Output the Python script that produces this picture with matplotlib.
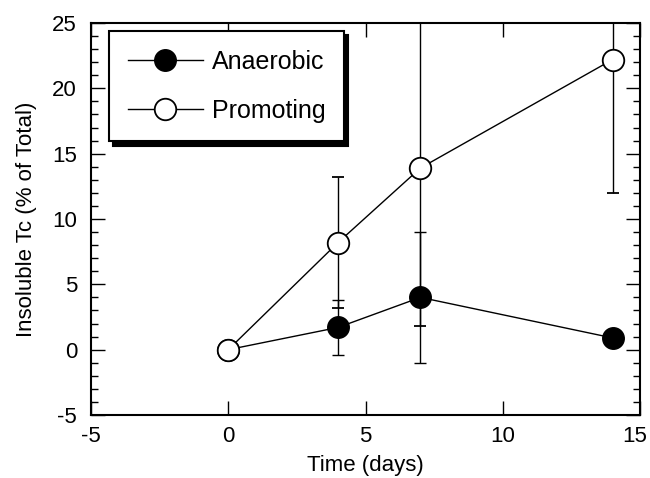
import matplotlib
matplotlib.use('Agg')
import matplotlib.pyplot as plt
from matplotlib.ticker import MultipleLocator
from matplotlib.lines import Line2D
from matplotlib.transforms import ScaledTranslation

# data
days = [0, 4, 7, 14]
anaerobic = [0.0, 1.7, 4.0, 0.9]
anaerobic_err = [0.0, 2.1, 5.0, 0.0]
promoting = [0.0, 8.2, 13.9, 22.2]
promoting_err = [0.0, 5.0, 12.1, 10.2]

plt.rcParams['font.family'] = ['Liberation Sans', 'DejaVu Sans']
plt.rcParams['axes.unicode_minus'] = False

fig = plt.figure(figsize=(6.5, 4.78), dpi=100)
ax = fig.add_axes([91 / 650, (478 - 415) / 478, 549 / 650, 392 / 478])

ax.errorbar(days, anaerobic, yerr=anaerobic_err, color='black', lw=1.0,
            marker='o', ms=15.5, mfc='black', mec='black', capsize=4,
            elinewidth=1.0, capthick=1.0, zorder=3)
ax.errorbar(days, promoting, yerr=promoting_err, color='black', lw=1.0,
            marker='o', ms=15.5, mfc='white', mec='black', mew=1.3, capsize=4,
            elinewidth=1.0, capthick=1.0, zorder=3)

ax.set_xlim(-5, 15)
ax.set_ylim(-5, 25)
ax.set_xticks([-5, 0, 5, 10, 15])
ax.yaxis.set_major_locator(MultipleLocator(5))
ax.yaxis.set_minor_locator(MultipleLocator(1))
ax.tick_params(which='both', direction='in', top=True, right=True,
               labelsize=16, width=1.0)
ax.tick_params(which='major', length=10)
ax.tick_params(axis='y', which='major', pad=10)
ax.tick_params(axis='x', which='major', pad=8)
ax.tick_params(which='minor', length=5)
for s in ax.spines.values():
    s.set_linewidth(1.5)

# nudge the last x label so it stays inside the figure
lab = ax.xaxis.get_major_ticks()[-1].label1
lab.set_transform(lab.get_transform() + ScaledTranslation(-5 / 100, 0, fig.dpi_scale_trans))

ax.set_xlabel('Time (days)', fontsize=16, labelpad=6)
ax.set_ylabel('Insoluble Tc (% of Total)', fontsize=16, labelpad=11)

handles = [
    Line2D([], [], color='black', lw=1.0, marker='o', ms=15.5, mfc='black', mec='black'),
    Line2D([], [], color='black', lw=1.0, marker='o', ms=15.5, mfc='white', mec='black', mew=1.3),
]
leg = ax.legend(handles, ['Anaerobic', 'Promoting'], loc='upper left',
                bbox_to_anchor=(0.0328, 0.9796), borderaxespad=0, fontsize=18,
                frameon=True, fancybox=False, edgecolor='black',
                framealpha=1, handlelength=3.0, handletextpad=0.36,
                labelspacing=1.0, borderpad=0.75,
                shadow={'ox': 3, 'oy': -3, 'color': 'black', 'alpha': 1})
leg.get_frame().set_linewidth(1.5)

fig.savefig('out.png', dpi=100)
